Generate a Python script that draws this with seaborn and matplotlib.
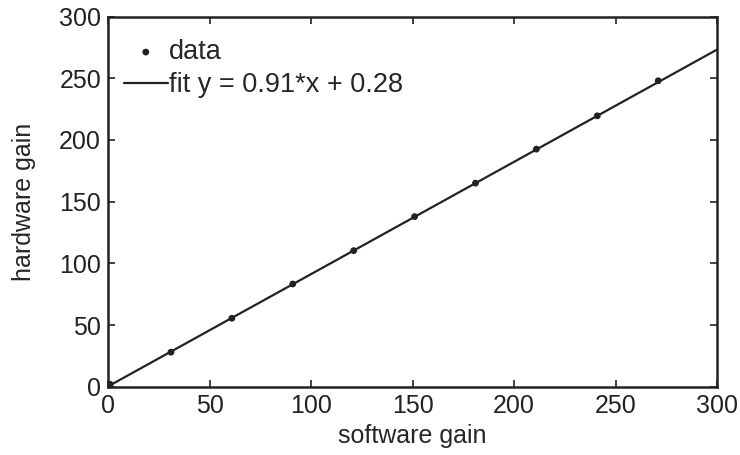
import matplotlib
matplotlib.use("Agg")
import matplotlib.pyplot as plt
import numpy as np
import pandas as pd
import seaborn as sns

# Measured gains
software_gain = [1, 31, 61, 91, 121, 151, 181, 211, 241, 271]
hardware_gain = [2.0, 28.0, 55.5, 83.3, 110.3, 137.9, 165.0, 192.6, 219.6, 248.0]

# Linear fit coefficients
fit_slope = 0.91
fit_intercept = 0.28
fit_x = [0, 300]

x_ticks = [0, 50, 100, 150, 200, 250, 300]
y_ticks = [0, 50, 100, 150, 200, 250, 300]

sns.set_theme(style="ticks")
plt.rcParams["font.family"] = ["Liberation Sans", "DejaVu Sans"]
plt.rcParams["font.size"] = 18

data = pd.DataFrame({"software": software_gain, "hardware": hardware_gain})
fit = pd.DataFrame({"x": fit_x,
                    "y": [fit_slope * v + fit_intercept for v in fit_x]})

fig = plt.figure(figsize=(7.4, 4.55), dpi=100)
ax = fig.add_axes([0.146, 0.150, 0.823, 0.8135])

sns.scatterplot(data=data, x="software", y="hardware", ax=ax, color="#222222",
                s=24, edgecolor="none", label="data", zorder=3)
sns.lineplot(data=fit, x="x", y="y", ax=ax, color="#222222", linewidth=1.6,
             label=f"fit y = {fit_slope:.2f}*x + {fit_intercept:.2f}", zorder=2)

ax.set_xlim(0, 300)
ax.set_ylim(0, 300)
ax.set_xticks(x_ticks)
ax.set_yticks(y_ticks)
ax.set_xlabel("software gain", fontsize=18, labelpad=4.5)
ax.set_ylabel("hardware gain", fontsize=18, labelpad=16.5)
ax.tick_params(direction="in", length=5, width=1.2, labelsize=18,
               top=True, right=True, colors="#222222", pad=5)
for sp in ax.spines.values():
    sp.set_linewidth(1.8)
    sp.set_color("#222222")
    sp.set_visible(True)

leg = ax.legend(loc="upper left", bbox_to_anchor=(0.026, 0.939), frameon=False,
                fontsize=19.5, handlelength=1.62, handletextpad=0.06,
                borderaxespad=0.0, borderpad=0.0, labelspacing=0.27,
                markerscale=1.0)

fig.savefig("out.png", dpi=100)
